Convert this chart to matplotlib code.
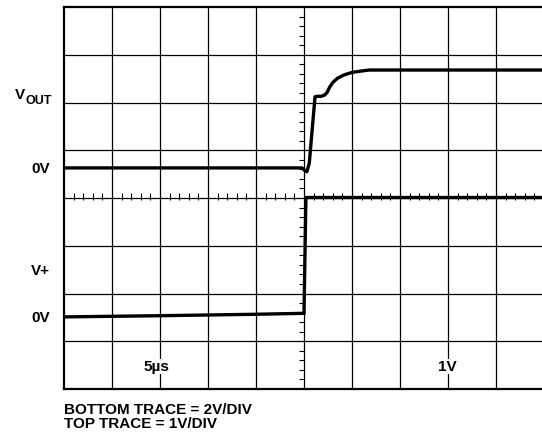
import numpy as np
import matplotlib.pyplot as plt

plt.rcParams['font.family'] = ['Liberation Sans', 'DejaVu Sans']
plt.rcParams['font.weight'] = 'bold'

# scope settings
us_per_div = 5.0
top_v_per_div = 1.0
bot_v_per_div = 2.0
top_zero_div = 4.63
bot_zero_div = 1.51

# top trace: VOUT (us, V)
top_t = [0, 24.8, 25.0, 25.3, 25.55, 25.85, 26.15, 26.4, 26.8, 27.1, 27.4, 27.7, 28.0,
         28.5, 29.2, 30.0, 31.0, 31.8, 50]
top_v = [0, 0, -0.04, -0.08, 0.1, 0.8, 1.49, 1.5, 1.5, 1.52, 1.58, 1.7, 1.79,
         1.88, 1.95, 2.0, 2.03, 2.05, 2.05]

# bottom trace: V+ (us, V)
bot_t = [0, 10, 20, 25.0, 25.2, 50]
bot_v = [0, 0.05, 0.11, 0.15, 5.0, 5.0]

fig = plt.figure(figsize=(5.42, 4.34), dpi=100)
ax = fig.add_axes([64 / 542, 45 / 434, 480 / 542, 382 / 434])
ax.set_xlim(0, 10)
ax.set_ylim(0, 8)
ax.set_xticks([])
ax.set_yticks([])
for s in ax.spines.values():
    s.set_linewidth(1.6)

# graticule
for i in range(1, 10):
    ax.axvline(i, color='black', lw=0.9, zorder=1)
for j in range(1, 8):
    ax.axhline(j, color='black', lw=0.9, zorder=1)

# minor ticks on the centre lines
mx = [k * 0.2 for k in range(51) if k % 5 != 0]
ax.vlines(mx, 3.95, 4.11, color='black', lw=0.8, zorder=1)
my = [k * 0.2 for k in range(41) if k % 5 != 0]
ax.hlines(my, 5 - 0.1, 5, color='black', lw=0.8, zorder=1)

tx = np.array(top_t) / us_per_div
ty = top_zero_div + np.array(top_v) / top_v_per_div
bx = np.array(bot_t) / us_per_div
by = bot_zero_div + np.array(bot_v) / bot_v_per_div
ax.plot(tx, ty, color='black', lw=2.4, solid_joinstyle='round', zorder=3)
ax.plot(bx, by, color='black', lw=2.4, solid_joinstyle='miter', zorder=3)

# level labels
fs = 11
ax.text(-0.81, 6.15, 'V', fontsize=fs, ha='right', va='center', clip_on=False)
ax.text(-0.81, 6.04, 'OUT', fontsize=9, ha='left', va='center', clip_on=False)
ax.text(-0.29, 4.6, '0V', fontsize=fs, ha='right', va='center', clip_on=False)
ax.text(-0.29, 2.47, 'V+', fontsize=fs, ha='right', va='center', clip_on=False)
ax.text(-0.29, 1.49, '0V', fontsize=fs, ha='right', va='center', clip_on=False)

ax.text(1.92, 0.47, '5µs', fontsize=fs, ha='center', va='center', zorder=4,
        bbox=dict(facecolor='white', edgecolor='none', pad=0.5))
ax.text(7.99, 0.47, '1V', fontsize=fs, ha='center', va='center', zorder=4,
        bbox=dict(facecolor='white', edgecolor='none', pad=0.5))

fig.text(64 / 542, 1 - 414 / 434, 'BOTTOM TRACE = 2V/DIV', fontsize=11, va='baseline')
fig.text(64 / 542, 1 - 428 / 434, 'TOP TRACE = 1V/DIV', fontsize=11, va='baseline')

fig.savefig('out.png', dpi=100)
